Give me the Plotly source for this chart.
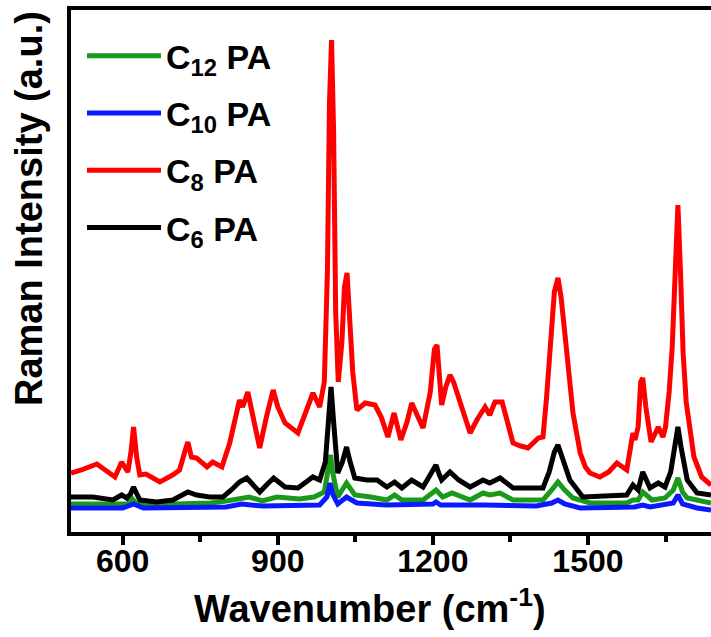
import plotly.graph_objects as go

# Wavenumber (cm^-1) / intensity (a.u.) pairs
c8_wn = [500, 520, 550, 585, 598, 610, 616, 621, 627, 633, 645, 672, 697, 710, 720, 726, 733, 743,
         763, 774, 792, 807, 826, 832, 842, 852, 865, 878, 891, 900, 914, 939, 955, 968, 981, 990,
         996, 1000, 1004, 1008, 1012, 1017, 1024, 1029, 1034, 1039, 1045, 1053, 1069, 1088, 1100,
         1113, 1125, 1138, 1150, 1159, 1170, 1181, 1195, 1203, 1208, 1213, 1217, 1225, 1233, 1240,
         1256, 1272, 1285, 1301, 1310, 1320, 1334, 1345, 1355, 1370, 1384, 1404, 1413, 1420, 1427,
         1435, 1442, 1448, 1455, 1461, 1471, 1485, 1495, 1504, 1523, 1540, 1556, 1575, 1582, 1587,
         1591, 1597, 1602, 1606, 1612, 1622, 1636, 1645, 1650, 1657, 1663, 1668, 1674, 1679, 1684,
         1690, 1697, 1705, 1720, 1738]
c8_int = [59, 62, 68, 55, 70, 60, 80, 105, 75, 57, 58, 50, 57, 62, 80, 90, 75, 74,
          65, 70, 65, 89, 132, 125, 140, 115, 84, 115, 142, 125, 109, 99, 120, 139, 125, 150,
          260, 430, 492, 400, 220, 150, 190, 245, 259, 220, 160, 122, 129, 127, 115,
          95, 119, 92, 110, 129, 115, 104, 140, 183, 187, 160, 127, 145, 157, 150,
          125, 99, 112, 125, 117, 130, 130, 110, 89, 86, 84, 94, 95, 135, 185,
          240, 254, 235, 200, 165, 119, 79, 65, 59, 55, 60, 69, 62, 80, 99,
          92, 105, 150, 154, 125, 90, 105, 95, 105, 140, 185, 250, 327, 260, 180,
          130, 100, 75, 55, 47]

c6_wn = [500, 542, 581, 598, 608, 615, 621, 627, 633, 666, 697, 726, 743, 768, 794, 810, 826, 840,
         865, 880, 892, 914, 939, 968, 981, 992, 998, 1003, 1008, 1016, 1025, 1033, 1040, 1049,
         1072, 1092, 1111, 1126, 1140, 1159, 1181, 1200, 1206, 1212, 1217, 1233, 1250, 1272, 1297,
         1310, 1330, 1355, 1413, 1425, 1435, 1442, 1450, 1465, 1490, 1575, 1587, 1597, 1606, 1620,
         1636, 1649, 1660, 1668, 1674, 1680, 1692, 1711, 1738]
c6_int = [35, 35, 32, 37, 34, 38, 45, 38, 32, 30, 32, 40, 37, 35, 35, 42, 50, 54,
          40, 48, 54, 45, 44, 55, 52, 70, 120, 145, 110, 59, 70, 85, 70, 54,
          52, 52, 45, 50, 44, 52, 45, 60, 67, 58, 52, 60, 52, 45, 52,
          49, 54, 44, 44, 60, 80, 87, 75, 52, 35, 37, 47, 42, 60, 44,
          49, 45, 60, 90, 105, 85, 52, 39, 37]

c12_wn = [500, 580, 610, 619, 627, 700, 770, 800, 826, 845, 870, 898, 942, 970, 990, 998, 1002,
          1006, 1016, 1033, 1049, 1080, 1111, 1126, 1140, 1181, 1206, 1219, 1237, 1272, 1297, 1310,
          1330, 1355, 1413, 1430, 1442, 1455, 1471, 1504, 1575, 1587, 1597, 1606, 1624, 1649, 1665,
          1674, 1683, 1692, 1738]
c12_int = [28, 28, 28, 33, 28, 28, 29, 31, 34, 35, 31, 35, 33, 35, 40, 65, 77,
           60, 35, 49, 37, 35, 32, 37, 32, 32, 42, 35, 39, 32, 39, 37,
           39, 32, 32, 42, 50, 42, 34, 29, 29, 32, 32, 40, 32, 34, 42,
           54, 40, 34, 29]

c10_wn = [500, 600, 621, 640, 800, 830, 870, 981, 995, 1001, 1006, 1016, 1033, 1053, 1110, 1200,
          1206, 1215, 1300, 1400, 1430, 1442, 1455, 1485, 1590, 1606, 1620, 1665, 1674, 1683, 1711,
          1738]
c10_int = [24, 24, 28, 24, 25, 28, 26, 27, 35, 49, 38, 28, 35, 29, 27, 28,
           30, 27, 27, 26, 29, 32, 28, 24, 25, 27, 25, 29, 37, 28, 24,
           22]

series = [
    ("C<sub>12</sub> PA", c12_wn, c12_int, "#1a9a1a"),
    ("C<sub>10</sub> PA", c10_wn, c10_int, "#0a1aff"),
    ("C<sub>8</sub> PA", c8_wn, c8_int, "#ff0000"),
    ("C<sub>6</sub> PA", c6_wn, c6_int, "#000000"),
]

x_ticks = [600, 900, 1200, 1500]

FONT = "Liberation Sans, Arial, sans-serif"

fig = go.Figure()
for i, (name, xs, ys, col) in enumerate(series):
    fig.add_trace(go.Scatter(x=xs, y=ys, mode="lines", name=name, legendgroup=f"g{i}",
                             line=dict(color=col, width=5)))

fig.update_layout(
    width=711, height=637,
    margin=dict(l=71, r=0, t=10, b=105),
    plot_bgcolor="white", paper_bgcolor="white",
    font=dict(family=FONT, color="black"),
    showlegend=True,
    legend=dict(x=(82 - 71) / 640, y=0.967, xanchor="left", yanchor="top",
                bgcolor="rgba(0,0,0,0)", borderwidth=0,
                font=dict(family=FONT, size=34, color="black", weight="bold"),
                tracegroupgap=10, itemwidth=74),
)
fig.update_xaxes(
    range=[500, 1738], showgrid=False, zeroline=False,
    showline=True, linecolor="black", linewidth=4, mirror=True,
    ticks="outside", ticklen=9, tickwidth=4, tickcolor="black",
    tickvals=x_ticks, ticktext=[str(v) for v in x_ticks],
    tickfont=dict(family=FONT, size=32, color="black", weight="bold"),
    ticklabelstandoff=-11,
    minor=dict(ticks="outside", ticklen=6, tickwidth=4, tickcolor="black", dtick=150, tick0=0),
)
fig.update_yaxes(
    range=[0, 522], showgrid=False, zeroline=False,
    showline=True, linecolor="black", linewidth=4, mirror=False,
    showticklabels=False, ticks="",
)
fig.add_annotation(text="Wavenumber (cm<sup>-1</sup>)", xref="paper", yref="paper",
                   x=(370 - 71) / 640, y=-(606 - 532) / 522, xanchor="center", yanchor="middle",
                   showarrow=False, font=dict(family=FONT, size=38, color="black", weight="bold"))
fig.add_annotation(text="Raman Intensity (a.u.)", xref="paper", yref="paper",
                   x=-(71 - 29) / 640, y=(532 - 209) / 522, xanchor="center", yanchor="middle",
                   textangle=-90, showarrow=False,
                   font=dict(family=FONT, size=38, color="black", weight="bold"))

fig.write_html("out.html")
